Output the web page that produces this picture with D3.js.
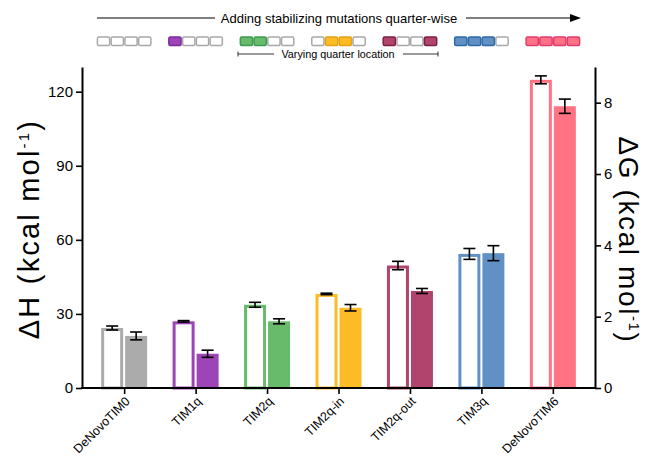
<!DOCTYPE html>
<html>
<head>
<meta charset="utf-8">
<script src="https://cdn.jsdelivr.net/npm/d3@7"></script>
<style>
  html, body { margin: 0; padding: 0; background: #fff; }
  svg { display: block; font-family: "Liberation Sans", Arial, Helvetica, sans-serif; }
</style>
</head>
<body>
<svg id="chart" width="659" height="458"></svg>
<script>
// Variants of the TIM barrel, in order of added stabilizing quarters
const categories = ["DeNovoTIM0", "TIM1q", "TIM2q", "TIM2q-in", "TIM2q-out", "TIM3q", "DeNovoTIM6"];
const colors     = ["#ababab", "#9d45b6", "#67bb6b", "#fdbb25", "#b0446d", "#6190c4", "#ff7385"];
const darkColors = ["#a8a8a8", "#7b2b98", "#3f9b52", "#e5a312", "#7f1f45", "#2d6aa6", "#e6396b"];

// Unfolding enthalpy (left axis, hollow bars) with error
const deltaH    = [24.3, 27.0, 33.7, 38.1, 49.6, 54.3, 124.8];
const deltaHErr = [0.8, 0.3, 1.0, 0.3, 1.7, 2.2, 1.6];
// Unfolding free energy (right axis, filled bars) with error
const deltaG    = [1.46, 0.96, 1.87, 2.25, 2.72, 3.78, 7.90];
const deltaGErr = [0.11, 0.10, 0.07, 0.09, 0.07, 0.21, 0.20];

// Which quarters (of four) carry stabilizing mutations in each design
const quarters = [[], [0], [0, 1], [1, 2], [0, 3], [0, 1, 2], [0, 1, 2, 3]];

const leftTicks  = [0, 30, 60, 90, 120];
const rightTicks = [0, 2, 4, 6, 8];

const svg = d3.select("#chart");
const plot = { left: 82, right: 595, top: 67, bottom: 388 };

const x = d3.scalePoint().domain(categories).range([plot.left, plot.right]).padding(0.59);
const yH = d3.scaleLinear().domain([0, 130]).range([plot.bottom, plot.top]);
const yG = d3.scaleLinear().domain([0, 9]).range([plot.bottom, plot.top]);

const barW = 22, gap = 2;

// Hollow bars: ΔH
const g = svg.append("g");
categories.forEach((c, i) => {
  const cx = x(c);
  const sw = 3;
  g.append("rect")
    .attr("x", cx - gap / 2 - barW + sw / 2)
    .attr("y", yH(deltaH[i]) + sw / 2)
    .attr("width", barW - sw)
    .attr("height", yH(0) - yH(deltaH[i]) - sw / 2)
    .attr("fill", "#fff")
    .attr("stroke", colors[i])
    .attr("stroke-width", sw);
  // Filled bars: ΔG
  g.append("rect")
    .attr("x", cx + gap / 2)
    .attr("y", yG(deltaG[i]))
    .attr("width", barW)
    .attr("height", yG(0) - yG(deltaG[i]))
    .attr("fill", colors[i]);
});

// Error bars
function errorBar(cx, yTop, yBot) {
  const cap = 6;
  g.append("line").attr("x1", cx).attr("x2", cx).attr("y1", yTop).attr("y2", yBot)
    .attr("stroke", "#000").attr("stroke-width", 1.6);
  [yTop, yBot].forEach(yy => g.append("line")
    .attr("x1", cx - cap).attr("x2", cx + cap).attr("y1", yy).attr("y2", yy)
    .attr("stroke", "#000").attr("stroke-width", 1.6));
}
categories.forEach((c, i) => {
  const cx = x(c);
  errorBar(cx - gap / 2 - barW / 2, yH(deltaH[i] + deltaHErr[i]), yH(deltaH[i] - deltaHErr[i]));
  errorBar(cx + gap / 2 + barW / 2, yG(deltaG[i] + deltaGErr[i]), yG(deltaG[i] - deltaGErr[i]));
});

// Axes
const axisStyle = sel => {
  sel.selectAll("path.domain").attr("stroke", "#000").attr("stroke-width", 2);
  sel.selectAll(".tick line").attr("stroke", "#000").attr("stroke-width", 1.6);
  sel.selectAll(".tick text").attr("fill", "#000").style("font-family", "Liberation Sans, Arial, sans-serif");
};

svg.append("g")
  .attr("transform", `translate(${plot.left},0)`)
  .call(d3.axisLeft(yH).tickValues(leftTicks).tickSize(6).tickSizeOuter(0).tickPadding(3))
  .call(axisStyle)
  .selectAll(".tick text").style("font-size", "15px");

svg.append("g")
  .attr("transform", `translate(${plot.right},0)`)
  .call(d3.axisRight(yG).tickValues(rightTicks).tickSize(6).tickSizeOuter(0).tickPadding(3))
  .call(axisStyle)
  .selectAll(".tick text").style("font-size", "15px");

const xAxis = svg.append("g")
  .attr("transform", `translate(0,${plot.bottom})`)
  .call(d3.axisBottom(x).tickSize(6).tickSizeOuter(0))
  .call(axisStyle);
xAxis.select("path.domain").attr("d", `M${plot.left - 1},0H${plot.right + 1}`);
xAxis.selectAll(".tick text")
  .style("font-size", "12.5px")
  .attr("text-anchor", "end")
  .attr("y", 0)
  .attr("dy", null)
  .attr("dx", null)
  .attr("transform", "translate(6,14) rotate(-45)");

// Axis titles
svg.append("text")
  .attr("transform", `translate(39,229) rotate(-90)`)
  .attr("text-anchor", "middle")
  .style("font-size", "29px")
  .style("letter-spacing", "2.2px")
  .html('ΔH (kcal mol<tspan dy="-10" font-size="15px">-1</tspan><tspan dy="10">)</tspan>');

svg.append("text")
  .attr("transform", `translate(619,240) rotate(90)`)
  .attr("text-anchor", "middle")
  .style("font-size", "28px")
  .style("letter-spacing", "1.6px")
  .html('ΔG (kcal mol<tspan dy="-10" font-size="15px">-1</tspan><tspan dy="10">)</tspan>');

// Header arrow
const arrowY = 18;
const header = svg.append("g");
header.append("line").attr("x1", 97).attr("x2", 215).attr("y1", arrowY).attr("y2", arrowY)
  .attr("stroke", "#000").attr("stroke-width", 1);
header.append("line").attr("x1", 466).attr("x2", 571).attr("y1", arrowY).attr("y2", arrowY)
  .attr("stroke", "#000").attr("stroke-width", 1);
header.append("path").attr("d", `M570,${arrowY - 4}L581,${arrowY}L570,${arrowY + 4}Z`).attr("fill", "#000");
header.append("text").attr("x", 339).attr("y", arrowY + 4.5).attr("text-anchor", "middle")
  .style("font-size", "13px").text("Adding stabilizing mutations quarter-wise");

// Quarter icons
const boxW = 13.75, boxH = 8.5, iconY = 37;
categories.forEach((c, i) => {
  const start = x(c) - 2 * boxW;
  for (let q = 0; q < 4; q++) {
    const on = quarters[i].includes(q);
    header.append("rect")
      .attr("x", start + q * boxW + 0.75)
      .attr("y", iconY)
      .attr("width", boxW - 1.5)
      .attr("height", boxH)
      .attr("rx", 1.5)
      .attr("fill", on ? colors[i] : "#fff")
      .attr("stroke", on ? darkColors[i] : "#a8a8a8")
      .attr("stroke-width", 1.5);
  }
});

// Varying quarter location bracket
const brY = 54;
header.append("line").attr("x1", 238).attr("x2", 274).attr("y1", brY).attr("y2", brY).attr("stroke", "#000").attr("stroke-width", 0.8);
header.append("line").attr("x1", 403).attr("x2", 438).attr("y1", brY).attr("y2", brY).attr("stroke", "#000").attr("stroke-width", 0.8);
header.append("line").attr("x1", 238).attr("x2", 238).attr("y1", brY - 2.5).attr("y2", brY + 2.5).attr("stroke", "#000").attr("stroke-width", 0.8);
header.append("line").attr("x1", 438).attr("x2", 438).attr("y1", brY - 2.5).attr("y2", brY + 2.5).attr("stroke", "#000").attr("stroke-width", 0.8);
header.append("text").attr("x", 338).attr("y", brY + 4).attr("text-anchor", "middle")
  .style("font-size", "10.8px").text("Varying quarter location");
</script>
</body>
</html>
